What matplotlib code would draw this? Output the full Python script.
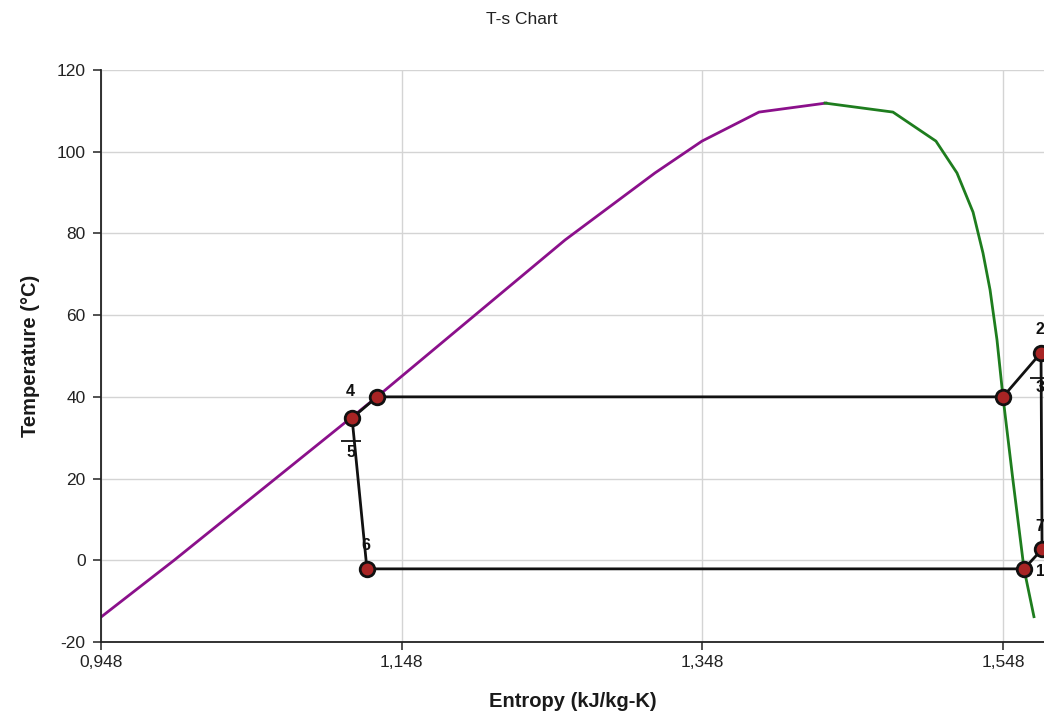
import matplotlib
matplotlib.use("Agg")
import matplotlib.pyplot as plt
from matplotlib.ticker import FixedLocator, FuncFormatter
from matplotlib.transforms import offset_copy

plt.rcParams["font.family"] = ["Liberation Sans", "DejaVu Sans"]
plt.rcParams["axes.unicode_minus"] = False

# saturated liquid line (purple)
liq_s = [0.948, 0.9966, 1.1316, 1.2567, 1.3165, 1.3478, 1.3857, 1.4303]
liq_T = [-13.9, 0.0, 40.0, 78.4, 94.8, 102.6, 109.7, 111.9]

# saturated vapour line (green)
vap_s = [1.4296, 1.4748, 1.5034, 1.5174, 1.5281, 1.5347, 1.5394, 1.5440,
         1.5480, 1.5545, 1.5620, 1.5686]
vap_T = [111.9, 109.7, 102.6, 94.8, 85.2, 75.2, 66.2, 54.0,
         40.0, 20.0, -2.1, -13.8]

# cycle state points 1..7
state_labels = ["1", "2", "3", "4", "5", "6", "7"]
state_s = [1.5620, 1.5733, 1.5480, 1.1316, 1.1150, 1.1249, 1.5740]
state_T = [-2.1, 50.8, 40.0, 40.0, 34.8, -2.1, 2.7]
cycle_order = [0, 6, 1, 2, 3, 4, 5, 0]

x_ticks = [0.948, 1.148, 1.348, 1.548]
y_ticks = [-20, 0, 20, 40, 60, 80, 100, 120]

W, H = 1044, 717
fig = plt.figure(figsize=(W / 100, H / 100), dpi=100)
ax = fig.add_axes([101 / W, 1 - 642 / H, 1 - 101 / W, (642 - 70) / H])

ax.set_xlim(0.948, 0.948 + 943 / 1503.3)
ax.set_ylim(-20, 120)
ax.xaxis.set_major_locator(FixedLocator(x_ticks))
ax.yaxis.set_major_locator(FixedLocator(y_ticks))
ax.xaxis.set_major_formatter(FuncFormatter(lambda v, p: f"{v:.3f}".replace(".", ",")))
ax.grid(color="#d4d4d4", linewidth=1.0)
ax.set_axisbelow(True)

for sp in ("top", "right"):
    ax.spines[sp].set_visible(False)
for sp in ("left", "bottom"):
    ax.spines[sp].set_linewidth(1.3)
    ax.spines[sp].set_color("#222222")
ax.tick_params(length=6, width=1.1, color="#222222", labelsize=12.5,
               labelcolor="#222222")
ax.tick_params(axis="y", pad=5)

ax.plot(liq_s, liq_T, color="#8b108b", lw=2.0, zorder=2)
ax.plot(vap_s, vap_T, color="#1e7d1e", lw=2.0, zorder=2)

cs = [state_s[i] for i in cycle_order]
ct = [state_T[i] for i in cycle_order]
ax.plot(cs, ct, color="#111111", lw=2.0, zorder=3, clip_on=False)
ax.plot(state_s, state_T, "o", ms=10.5, mfc="#a82424", mec="#111111", mew=2.0,
        zorder=4, clip_on=False, ls="none")

# label offsets in pixels (dx, dy up)
lab_off = {"1": (16, -3), "2": (-1, 23), "3": (37, 9), "4": (-27, 5),
           "5": (-1, -34), "6": (-1, 23), "7": (-2, 23)}
for lab, s, t in zip(state_labels, state_s, state_T):
    dx, dy = lab_off[lab]
    ax.annotate(lab, (s, t), xytext=(dx, dy), textcoords="offset pixels",
                ha="center", va="center", fontsize=11.5, fontweight="bold",
                color="#111111", annotation_clip=False, zorder=5)

# small callout dashes above labels 3 and 5
for idx, (dx, dy) in ((2, (37, 19)), (4, (-1, -23))):
    tr = offset_copy(ax.transData, fig=fig, x=dx, y=dy, units="dots")
    ax.plot(state_s[idx], state_T[idx], marker="_", ms=14, mew=1.3,
            color="#111111", transform=tr, clip_on=False, zorder=5)

ax.set_xlabel("Entropy (kJ/kg-K)", fontsize=14.5, fontweight="bold", labelpad=16,
              color="#1a1a1a")
ax.set_ylabel("Temperature (°C)", fontsize=14.5, fontweight="bold", labelpad=12,
              color="#1a1a1a")
fig.text(0.5, 1 - 20 / H, "T-s Chart", ha="center", va="center", fontsize=12.5,
         color="#222222")

fig.savefig("out.png", dpi=100)
